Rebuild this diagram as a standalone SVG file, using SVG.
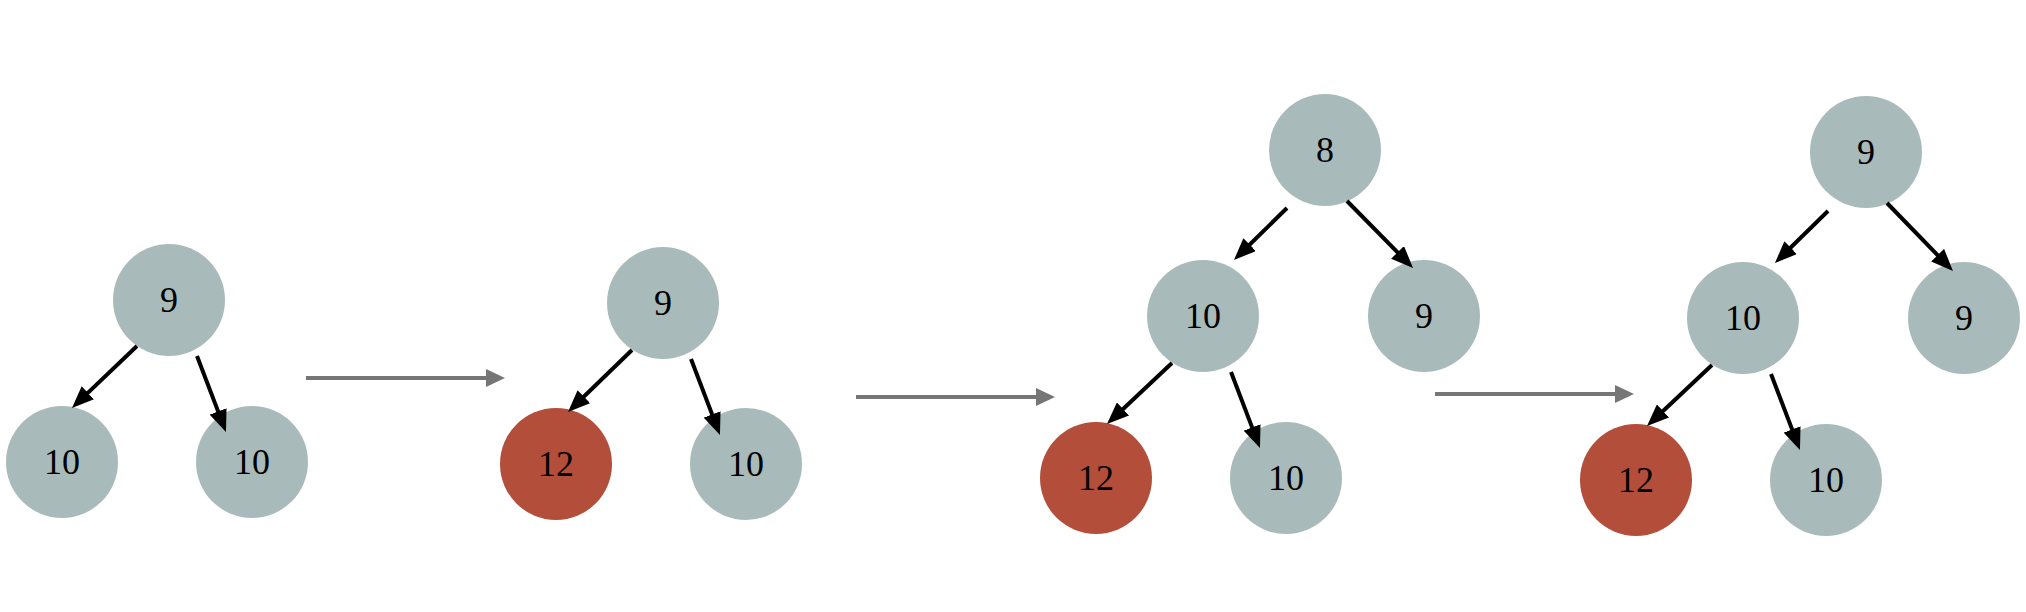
<svg xmlns="http://www.w3.org/2000/svg" width="2026" height="612" viewBox="0 0 2026 612">
<style>
.g{fill:#a8bbba}
.r{fill:#b34e3a}
.t{font-family:"Liberation Serif","DejaVu Serif",serif;font-size:36px;fill:#000;text-anchor:middle}
.e{stroke:#000;stroke-width:4;fill:none;marker-end:url(#ah)}
.s{stroke:#767676;stroke-width:4;fill:none;marker-end:url(#gh)}
</style>
<defs>
<marker id="ah" viewBox="0 0 22 18" refX="12" refY="9" markerWidth="22" markerHeight="18" markerUnits="userSpaceOnUse" orient="auto">
<path d="M0,0 L22,9 L0,18 z" fill="#000"/>
</marker>
<marker id="gh" viewBox="0 0 19 18" refX="1" refY="9" markerWidth="19" markerHeight="18" markerUnits="userSpaceOnUse" orient="auto">
<path d="M0,0 L19,9 L0,18 z" fill="#767676"/>
</marker>
</defs>
<rect width="2026" height="612" fill="#fff"/>
<g id="t1_root"><circle class="g" cx="169" cy="300" r="56"/><text class="t" x="169" y="312">9</text></g>
<g id="t1_left"><circle class="g" cx="62" cy="462" r="56"/><text class="t" x="62" y="474">10</text></g>
<g id="t1_right"><circle class="g" cx="252" cy="462" r="56"/><text class="t" x="252" y="474">10</text></g>
<g id="t2_root"><circle class="g" cx="663" cy="303" r="56"/><text class="t" x="663" y="315">9</text></g>
<g id="t2_left"><circle class="r" cx="556" cy="464" r="56"/><text class="t" x="556" y="476">12</text></g>
<g id="t2_right"><circle class="g" cx="746" cy="464" r="56"/><text class="t" x="746" y="476">10</text></g>
<g id="t3_root"><circle class="g" cx="1325" cy="150" r="56"/><text class="t" x="1325" y="162">8</text></g>
<g id="t3_l"><circle class="g" cx="1203" cy="316" r="56"/><text class="t" x="1203" y="328">10</text></g>
<g id="t3_r"><circle class="g" cx="1424" cy="316" r="56"/><text class="t" x="1424" y="328">9</text></g>
<g id="t3_ll"><circle class="r" cx="1096" cy="478" r="56"/><text class="t" x="1096" y="490">12</text></g>
<g id="t3_lr"><circle class="g" cx="1286" cy="478" r="56"/><text class="t" x="1286" y="490">10</text></g>
<g id="t4_root"><circle class="g" cx="1866" cy="152" r="56"/><text class="t" x="1866" y="164">9</text></g>
<g id="t4_l"><circle class="g" cx="1743" cy="318" r="56"/><text class="t" x="1743" y="330">10</text></g>
<g id="t4_r"><circle class="g" cx="1964" cy="318" r="56"/><text class="t" x="1964" y="330">9</text></g>
<g id="t4_ll"><circle class="r" cx="1636" cy="480" r="56"/><text class="t" x="1636" y="492">12</text></g>
<g id="t4_lr"><circle class="g" cx="1826" cy="480" r="56"/><text class="t" x="1826" y="492">10</text></g>
<g id="connectors">
<line class="e" x1="137" y1="346" x2="79.2" y2="401.1"/>
<line class="e" x1="197" y1="356" x2="222.4" y2="422.6"/>
<line class="e" x1="632" y1="350" x2="575.2" y2="405.0"/>
<line class="e" x1="691" y1="359" x2="716.4" y2="425.6"/>
<line class="e" x1="1287" y1="208" x2="1241.1" y2="253.0"/>
<line class="e" x1="1347" y1="201" x2="1406.0" y2="260.9"/>
<line class="e" x1="1172" y1="363" x2="1114.3" y2="417.2"/>
<line class="e" x1="1231" y1="372" x2="1256.4" y2="438.6"/>
<line class="e" x1="1828" y1="211" x2="1782.1" y2="256.0"/>
<line class="e" x1="1887" y1="203" x2="1946.0" y2="263.8"/>
<line class="e" x1="1712" y1="365" x2="1654.3" y2="419.2"/>
<line class="e" x1="1771" y1="374" x2="1796.4" y2="440.6"/>
<line class="s" x1="306" y1="378" x2="487" y2="378"/>
<line class="s" x1="856" y1="397" x2="1037" y2="397"/>
<line class="s" x1="1435" y1="394" x2="1616" y2="394"/>
</g>
</svg>
